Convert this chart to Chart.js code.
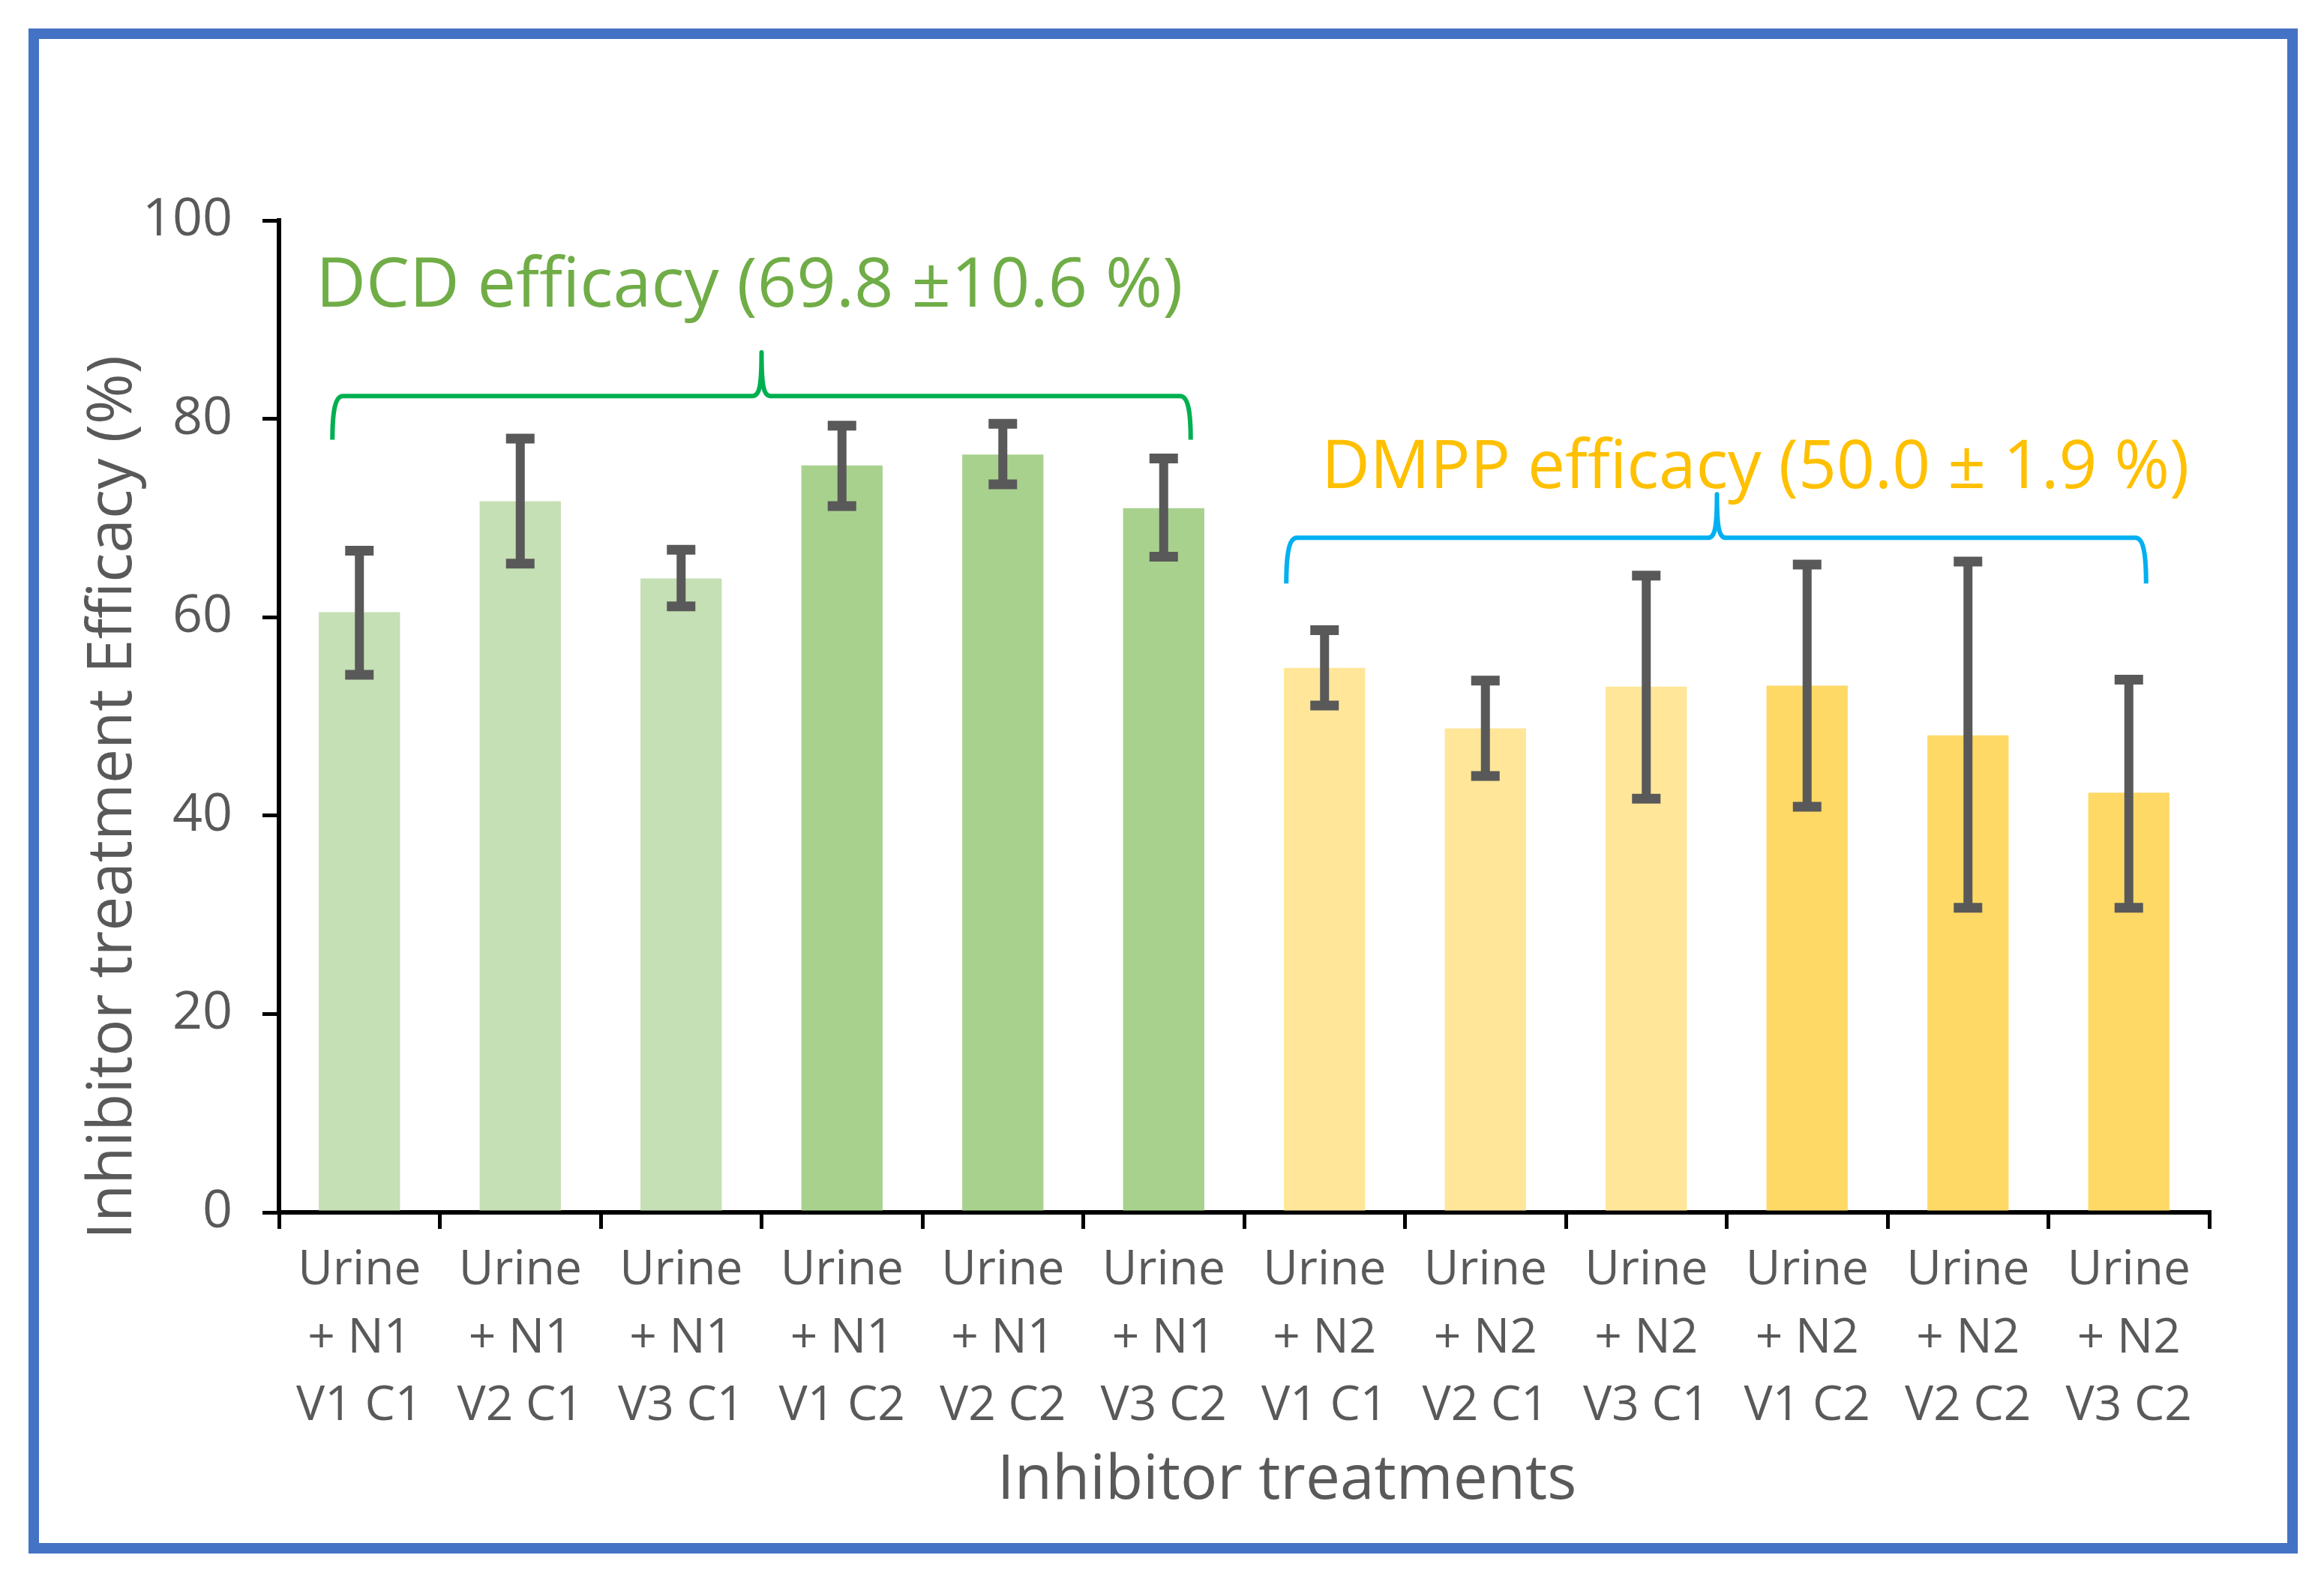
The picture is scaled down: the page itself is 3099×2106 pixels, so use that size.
<!DOCTYPE html>
<html>
<head>
<meta charset="utf-8">
<script src="https://cdn.jsdelivr.net/npm/chart.js@4.4.1/dist/chart.umd.min.js"></script>
<style>
  html, body { margin: 0; padding: 0; background: #fff; }
  #wrap { width: 3099px; height: 2106px; position: relative; }
</style>
</head>
<body>
<div id="wrap"><canvas id="efficacyChart"></canvas></div>
<script>
// treatments (multi-line tick labels)
const treatments = [
    ['Urine', '+ N1', 'V1 C1'], ['Urine', '+ N1', 'V2 C1'], ['Urine', '+ N1', 'V3 C1'],
    ['Urine', '+ N1', 'V1 C2'], ['Urine', '+ N1', 'V2 C2'], ['Urine', '+ N1', 'V3 C2'],
    ['Urine', '+ N2', 'V1 C1'], ['Urine', '+ N2', 'V2 C1'], ['Urine', '+ N2', 'V3 C1'],
    ['Urine', '+ N2', 'V1 C2'], ['Urine', '+ N2', 'V2 C2'], ['Urine', '+ N2', 'V3 C2']
];
// mean efficacy (%)
const efficacy = [60.5, 71.7, 63.9, 75.3, 76.4, 71.0, 54.9, 48.8, 53.0, 53.1, 48.1, 42.3];
// error bar ends (%)
const errHigh = [66.7, 78.0, 66.8, 79.3, 79.5, 76.0, 58.7, 53.6, 64.2, 65.3, 65.6, 53.7];
const errLow  = [54.2, 65.4, 61.1, 71.2, 73.4, 66.1, 51.1, 44.0, 41.7, 40.9, 30.7, 30.7];
const yTicks = [0, 20, 40, 60, 80, 100];

const barColors = ['#C5E0B4', '#C5E0B4', '#C5E0B4', '#A9D18E', '#A9D18E', '#A9D18E',
                   '#FFE699', '#FFE699', '#FFE699', '#FFD966', '#FFD966', '#FFD966'];
const FONT = "'Century Gothic', 'Open Sans', sans-serif";
const GREY = '#595959';

// group brackets + labels
const groups = [
    { from: 0, to: 5, left: -36, right: 36, peak: 0, bottom: 77.9, line: 82.3, top: 86.7,
      color: '#00B050', text: 'DCD efficacy (69.8 \u00B110.6 %)', textColor: '#70AD47',
      textDx: -58, textY: 91.3, size: 92 },
    { from: 6, to: 11, left: -51, right: 23, peak: -13, bottom: 63.4, line: 68.0, top: 72.4,
      color: '#00B0F0', text: 'DMPP efficacy (50.0 \u00B1 1.9 %)', textColor: '#FFC000',
      textDx: -4, textY: 73.0, size: 89 }
];

const extras = {
    id: 'extras',
    afterDatasetsDraw(chart) {
        const ctx = chart.ctx;
        const xs = chart.scales.x;
        const ys = chart.scales.y;
        const meta = chart.getDatasetMeta(0);

        // error bars
        ctx.save();
        ctx.strokeStyle = '#595959';
        ctx.lineCap = 'butt';
        meta.data.forEach((bar, i) => {
            const x = bar.x;
            const yh = ys.getPixelForValue(errHigh[i]);
            const yl = ys.getPixelForValue(errLow[i]);
            ctx.lineWidth = 12;
            ctx.beginPath();
            ctx.moveTo(x, yh);
            ctx.lineTo(x, yl);
            ctx.stroke();
            ctx.lineWidth = 13;
            ctx.beginPath();
            ctx.moveTo(x - 19, yh); ctx.lineTo(x + 19, yh);
            ctx.moveTo(x - 19, yl); ctx.lineTo(x + 19, yl);
            ctx.stroke();
        });
        ctx.restore();

        // brackets and labels
        groups.forEach(g => {
            const xL = xs.getPixelForValue(g.from) + g.left;
            const xR = xs.getPixelForValue(g.to) + g.right;
            const xP = (xs.getPixelForValue(g.from) + xs.getPixelForValue(g.to)) / 2 + g.peak;
            const yB = ys.getPixelForValue(g.bottom);
            const yL = ys.getPixelForValue(g.line);
            const yP = ys.getPixelForValue(g.top);
            ctx.save();
            ctx.strokeStyle = g.color;
            ctx.lineWidth = 6;
            ctx.lineJoin = 'round';
            ctx.beginPath();
            ctx.moveTo(xL, yB);
            ctx.bezierCurveTo(xL, yB - (yB - yL) * 0.6, xL + 3, yL, xL + 14, yL);
            ctx.lineTo(xP - 12, yL);
            ctx.bezierCurveTo(xP - 3, yL, xP, yL - 12, xP, yP);
            ctx.bezierCurveTo(xP, yL - 12, xP + 3, yL, xP + 12, yL);
            ctx.lineTo(xR - 14, yL);
            ctx.bezierCurveTo(xR - 3, yL, xR, yB - (yB - yL) * 0.6, xR, yB);
            ctx.stroke();

            ctx.fillStyle = g.textColor;
            ctx.font = g.size + 'px ' + FONT;
            ctx.textAlign = 'left';
            ctx.textBaseline = 'alphabetic';
            ctx.fillText(g.text, xs.getPixelForValue(g.from) + g.textDx, ys.getPixelForValue(g.textY));
            ctx.restore();
        });
    },
    afterDraw(chart) {
        const ctx = chart.ctx;
        const area = chart.chartArea;
        ctx.save();
        ctx.fillStyle = GREY;
        ctx.font = '82px ' + FONT;
        // x axis title
        ctx.textAlign = 'center';
        ctx.textBaseline = 'alphabetic';
        ctx.fillText('Inhibitor treatments', (area.left + area.right) / 2 + 57, area.bottom + 382);
        // y axis title
        ctx.translate(175, (area.top + area.bottom) / 2 + 108);
        ctx.rotate(-Math.PI / 2);
        ctx.fillText('Inhibitor treatment Efficacy (%)', 0, 0);
        ctx.restore();

        // outer frame
        ctx.save();
        ctx.strokeStyle = '#4472C4';
        ctx.lineWidth = 14;
        ctx.strokeRect(45, 45, 3012, 2020);
        ctx.restore();
    }
};

const ctx = document.getElementById('efficacyChart').getContext('2d');
new Chart(ctx, {
    type: 'bar',
    data: {
        labels: treatments,
        datasets: [{
            label: 'Efficacy',
            data: efficacy,
            backgroundColor: barColors,
            borderWidth: 0,
            categoryPercentage: 1.0,
            barPercentage: 0.505
        }]
    },
    options: {
        responsive: true,
        maintainAspectRatio: false,
        devicePixelRatio: 1,
        animation: false,
        layout: { padding: { left: 0, top: 294, right: 153, bottom: 0 } },
        plugins: {
            legend: { display: false },
            tooltip: { enabled: false }
        },
        scales: {
            x: {
                grid: { display: true, drawOnChartArea: false, drawTicks: true, tickLength: 22,
                        color: '#000', lineWidth: 5, offset: true },
                border: { display: true, color: '#000', width: 6 },
                ticks: { color: GREY, padding: 11, maxRotation: 0, autoSkip: false,
                         font: { family: FONT, size: 64, lineHeight: 1.414 } },
                afterFit(scale) { scale.height = 489; }
            },
            y: {
                min: 0,
                max: 100,
                afterBuildTicks(scale) { scale.ticks = yTicks.map(v => ({ value: v })); },
                grid: { display: true, drawOnChartArea: false, drawTicks: true, tickLength: 22,
                        color: '#000', lineWidth: 5 },
                border: { display: true, color: '#000', width: 6 },
                ticks: { color: GREY, padding: 40, font: { family: FONT, size: 70 } },
                afterFit(scale) { scale.width = 372; }
            }
        }
    },
    plugins: [extras]
});
</script>
</body>
</html>
